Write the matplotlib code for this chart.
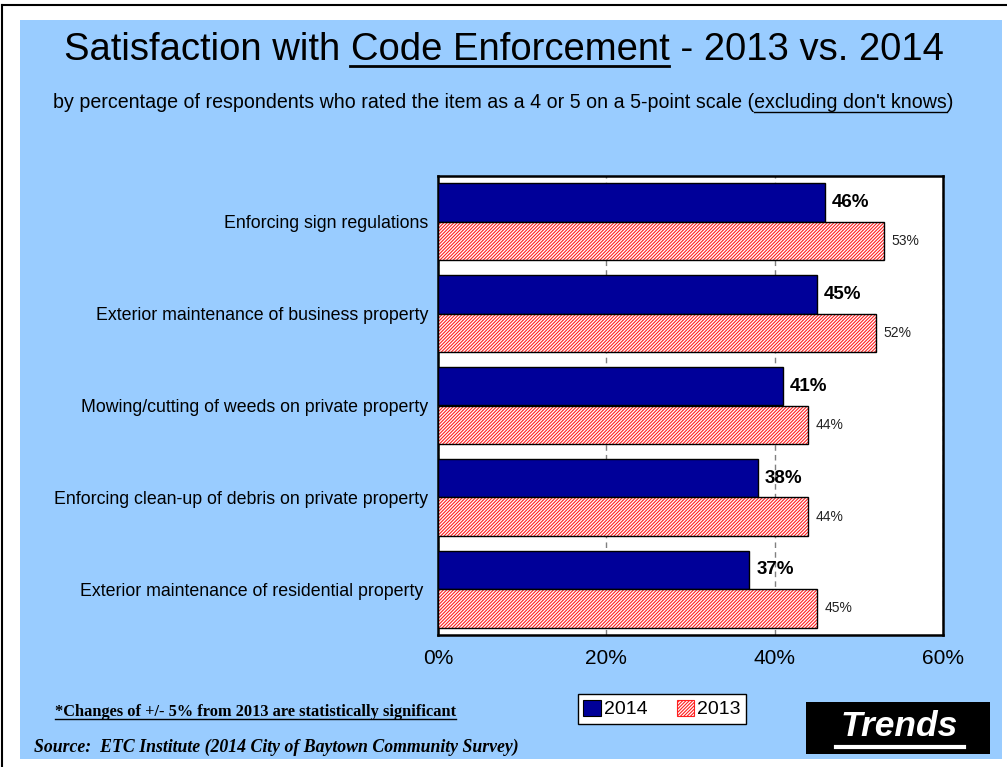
import numpy as np
import matplotlib
matplotlib.use("Agg")
import matplotlib.pyplot as plt
from matplotlib.patches import Rectangle, Patch
from matplotlib.lines import Line2D

categories = [
    "Enforcing sign regulations",
    "Exterior maintenance of business property",
    "Mowing/cutting of weeds on private property",
    "Enforcing clean-up of debris on private property",
    "Exterior maintenance of residential property ",
]
vals_2014 = [46, 45, 41, 38, 37]
vals_2013 = [53, 52, 44, 44, 45]
xticks = [0, 20, 40, 60]

W, H = 1007, 767
BLUE_BG = "#99CCFF"
NAVY = "#000099"
RED = "#FF2020"

plt.rcParams["font.family"] = ["Liberation Sans", "DejaVu Sans"]
plt.rcParams["hatch.linewidth"] = 0.8


def fx(px):
    return px / W


def fy(py):
    return 1 - py / H


fig = plt.figure(figsize=(W / 100, H / 100), dpi=100, facecolor="white")

# slide background and frame lines
fig.patches.append(Rectangle((fx(20), fy(759)), fx(1002) - fx(20), fy(20) - fy(759),
                             transform=fig.transFigure, facecolor=BLUE_BG, edgecolor="none", zorder=-2))
fig.lines.append(Line2D([fx(2), 1], [fy(5), fy(5)], transform=fig.transFigure, color="black", lw=1.5))
fig.lines.append(Line2D([fx(2), fx(2)], [fy(5), 0], transform=fig.transFigure, color="black", lw=1.5))

ax = fig.add_axes([fx(438), fy(635), fx(943) - fx(438), fy(176) - fy(635)])
ax.set_zorder(1)
ax.set_facecolor("white")

y = np.arange(len(categories))
h = 0.42
ax.barh(y - h / 2, vals_2014, height=h, color=NAVY, edgecolor="black", lw=1, zorder=3)
# hatch layer first, then a black outline on top
ax.barh(y + h / 2, vals_2013, height=h, color="white", edgecolor=RED, hatch="//////////", lw=0, zorder=3)
ax.barh(y + h / 2, vals_2013, height=h, color="none", edgecolor="black", lw=1, zorder=4)

for yi, v in zip(y, vals_2014):
    ax.text(v + 0.8, yi - h / 2, f"{v}%", va="center", ha="left", fontsize=13.5, fontweight="bold", zorder=5)
for yi, v in zip(y, vals_2013):
    ax.text(v + 0.9, yi + h / 2, f"{v}%", va="center", ha="left", fontsize=10, color="#222222", zorder=5)

ax.set_xlim(0, 60)
ax.set_ylim(len(categories) - 0.5, -0.5)
ax.set_xticks(xticks)
ax.set_xticklabels([f"{t}%" for t in xticks], fontsize=15)
ax.set_yticks(y)
ax.set_yticklabels(categories, fontsize=12.8)
ax.tick_params(axis="both", length=0)
ax.tick_params(axis="x", pad=10)
ax.tick_params(axis="y", pad=7)
ax.xaxis.grid(True, color="#808080", linestyle=(0, (4, 3)), lw=1)
ax.set_axisbelow(True)
for s in ax.spines.values():
    s.set_linewidth(1.8)
    s.set_color("black")

# titles
title = fig.text(0.5, fy(50), "Satisfaction with Code Enforcement - 2013 vs. 2014",
                 ha="center", va="center", fontsize=27.5)
sub = fig.text(0.5, fy(103), "by percentage of respondents who rated the item as a 4 or 5 on a 5-point scale "
               "(excluding don't knows)", ha="center", va="center", fontsize=14.1)

note = fig.text(fx(55), fy(712), "*Changes of +/- 5% from 2013 are statistically significant",
                ha="left", va="center", fontsize=11.8, fontweight="bold", family="Liberation Serif")
src = fig.text(fx(34), fy(747), "Source:  ETC Institute (2014 City of Baytown Community Survey)",
               ha="left", va="center", fontsize=12.8, fontweight="bold", style="italic", family="Liberation Serif")

# legend
handles = [Patch(facecolor=NAVY, edgecolor="black", lw=0.8, label="2014"),
           Patch(facecolor="white", edgecolor=RED, hatch="//////////", lw=0.8, label="2013")]
leg = fig.legend(handles=handles, loc="center", bbox_to_anchor=(fx(662), fy(709)), ncol=2,
                 fontsize=14, frameon=True, fancybox=False, edgecolor="black", framealpha=1,
                 handlelength=0.9, handleheight=0.9, handletextpad=0.15, columnspacing=1.5,
                 borderpad=0.3, borderaxespad=0)
leg.get_frame().set_linewidth(1)

# Trends badge
fig.patches.append(Rectangle((fx(806), fy(754)), fx(990) - fx(806), fy(702) - fy(754),
                             transform=fig.transFigure, facecolor="black", edgecolor="none", zorder=2))
trends = fig.text(fx(899), fy(727), "Trends", ha="center", va="center", color="white",
                  fontsize=25.5, fontweight="bold", style="italic", zorder=3)
fig.lines.append(Line2D([fx(836), fx(964)], [fy(747), fy(747)], transform=fig.transFigure,
                        color="white", lw=3, zorder=4))

r = fig.canvas.get_renderer()


def text_width(s, src_txt):
    t = fig.text(0, 0, s, fontproperties=src_txt.get_fontproperties())
    w = t.get_window_extent(r).width
    t.remove()
    return w


def underline(txt, part, gap, lw, color="black"):
    full = txt.get_text()
    i = full.index(part)
    bb = txt.get_window_extent(r)
    end = bb.x0 + text_width(full[:i + len(part)], txt)
    start = end - text_width(part, txt)
    yy = bb.y0 - gap
    fig.lines.append(Line2D([start / W, end / W], [yy / H, yy / H], transform=fig.transFigure,
                            color=color, lw=lw, zorder=4))


underline(title, "Code Enforcement", -2, 2)
underline(sub, "excluding don't knows", -1, 1)
underline(note, note.get_text(), -1, 1)

fig.savefig("out.png", dpi=100, facecolor="white")
